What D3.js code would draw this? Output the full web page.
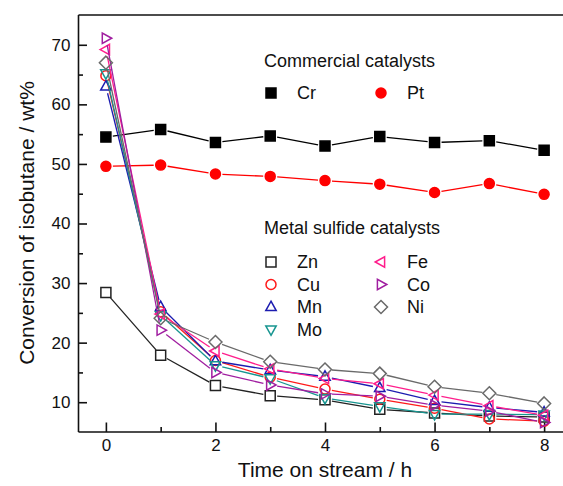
<!DOCTYPE html>
<html><head><meta charset="utf-8">
<script src="https://cdn.jsdelivr.net/npm/d3@7"></script>
<style>html,body{margin:0;padding:0;background:#fff}svg{display:block}</style>
</head><body><svg id="c" width="563" height="486"></svg>
<script>
const hours = [0,1,2,3,4,5,6,7,8];
const xTickLabels = [0,2,4,6,8];
const yTickLabels = [10,20,30,40,50,60,70];
const Cr = [54.5,55.8,53.6,54.7,53.0,54.6,53.6,53.9,52.3];
const Pt = [49.6,49.8,48.3,47.9,47.2,46.6,45.2,46.7,44.9];
const Zn = [28.4,17.9,12.8,11.1,10.4,8.8,8.2,7.7,7.5];
const Cu = [64.8,25.2,17.0,14.2,12.2,10.5,9.0,7.2,6.8];
const Mn = [63.0,26.0,16.9,15.4,14.3,12.4,10.2,9.1,8.3];
const Mo = [65.2,24.6,16.2,14.0,10.7,9.3,8.0,8.0,7.9];
const Fe = [69.2,24.8,18.6,15.6,14.0,13.1,11.2,9.4,7.8];
const Co = [71.1,22.1,15.0,12.9,11.4,11.0,9.5,8.5,6.6];
const Ni = [67.0,24.1,20.1,16.8,15.5,14.8,12.6,11.5,9.8];

const series = [
  {name:"Cr", values:Cr, color:"#000", shape:"square", fill:true},
  {name:"Pt", values:Pt, color:"#ff0000", shape:"circle", fill:true},
  {name:"Zn", values:Zn, color:"#222", shape:"square", fill:false},
  {name:"Cu", values:Cu, color:"#ff1a1a", shape:"circle", fill:false},
  {name:"Mn", values:Mn, color:"#1c1cb0", shape:"up", fill:false},
  {name:"Mo", values:Mo, color:"#179590", shape:"down", fill:false},
  {name:"Fe", values:Fe, color:"#ff1e8c", shape:"left", fill:false},
  {name:"Co", values:Co, color:"#a01ea0", shape:"right", fill:false},
  {name:"Ni", values:Ni, color:"#6a6a6a", shape:"diamond", fill:false}
];

const svg = d3.select("#c");
const x = d3.scaleLinear().domain([-0.5,8.5]).range([78.5,571.5]);
const y = d3.scaleLinear().domain([5,75]).range([432,15]);
const FONT = "Liberation Sans, Arial, Helvetica, sans-serif";

function shapePath(s){
  const r=5;
  switch(s){
    case "square": return `M${-r},${-r}H${r}V${r}H${-r}Z`;
    case "circle": return `M${r},0A${r},${r} 0 1,1 ${-r},0A${r},${r} 0 1,1 ${r},0Z`;
    case "up": return `M0,${-5.8}L${5.2},${3.6}L${-5.2},${3.6}Z`;
    case "down": return `M0,${5.8}L${5.2},${-3.6}L${-5.2},${-3.6}Z`;
    case "left": return `M${-5.8},0L${3.6},${-5.2}L${3.6},${5.2}Z`;
    case "right": return `M${5.8},0L${-3.6},${-5.2}L${-3.6},${5.2}Z`;
    case "diamond": return `M0,${-6.5}L${6.5},0L0,${6.5}L${-6.5},0Z`;
  }
}

// Frame
const axG = svg.append("g");
axG.append("line").attr("x1",x.range()[0]).attr("x2",x.range()[1]).attr("y1",y(5)).attr("y2",y(5));
axG.append("line").attr("x1",x.range()[0]).attr("x2",x.range()[1]).attr("y1",y(75)).attr("y2",y(75));
axG.append("line").attr("x1",x(-0.5)).attr("x2",x(-0.5)).attr("y1",y(5)).attr("y2",y(75));
axG.append("line").attr("x1",x(8.5)).attr("x2",x(8.5)).attr("y1",y(5)).attr("y2",y(75));
axG.selectAll("line").attr("stroke","#111").attr("stroke-width",1.6);

const yAxis = d3.axisLeft(y).tickValues(yTickLabels).tickSize(-8.5).tickPadding(8).tickFormat(d3.format("d"));
const gy = svg.append("g").attr("transform",`translate(${x(-0.5)},0)`).call(yAxis);
const yMinor = d3.axisLeft(y).tickValues([15,25,35,45,55,65]).tickSize(-4.5).tickFormat("");
const gym = svg.append("g").attr("transform",`translate(${x(-0.5)},0)`).call(yMinor);
const xAxis = d3.axisBottom(x).tickValues(xTickLabels).tickSize(-9.5).tickPadding(7).tickFormat(d3.format("d"));
const gx = svg.append("g").attr("transform",`translate(0,${y(5)})`).call(xAxis);
const xMinor = d3.axisBottom(x).tickValues([1,3,5,7]).tickSize(-5).tickFormat("");
const gxm = svg.append("g").attr("transform",`translate(0,${y(5)})`).call(xMinor);
[gy,gym,gx,gxm].forEach(g=>{
  g.select(".domain").remove();
  g.selectAll(".tick line").attr("stroke","#111").attr("stroke-width",1.6);
  g.selectAll(".tick text").attr("font-family",FONT).attr("font-size",17).attr("fill","#111");
});

// Axis titles
svg.append("text").attr("x",325).attr("y",477).attr("text-anchor","middle")
  .attr("font-family",FONT).attr("font-size",21).attr("fill","#111").text("Time on stream / h");
svg.append("text").attr("transform","translate(34,223) rotate(-90)").attr("text-anchor","middle")
  .attr("font-family",FONT).attr("font-size",21).attr("fill","#111").text("Conversion of isobutane / wt%");

// Series: line segments with gaps around markers
const gap = 7;
series.forEach(s=>{
  const g = svg.append("g");
  const pts = hours.map((h,i)=>[x(h), y(s.values[i])]);
  for(let i=0;i<pts.length-1;i++){
    const [x1,y1]=pts[i],[x2,y2]=pts[i+1];
    const dx=x2-x1, dy=y2-y1, L=Math.hypot(dx,dy);
    if(L<=2*gap) continue;
    const ux=dx/L, uy=dy/L;
    g.append("line").attr("x1",x1+ux*gap).attr("y1",y1+uy*gap)
      .attr("x2",x2-ux*gap).attr("y2",y2-uy*gap)
      .attr("stroke",s.color).attr("stroke-width",1.3);
  }
  g.selectAll("path").data(pts).join("path")
    .attr("transform",d=>`translate(${d[0]},${d[1]})`)
    .attr("d",shapePath(s.shape))
    .attr("fill",s.fill?s.color:"none")
    .attr("stroke",s.color).attr("stroke-width",1.5);
});

// Legends
function legendItem(name,cx,cy){
  const s = series.find(d=>d.name===name);
  svg.append("path").attr("transform",`translate(${cx},${cy})`).attr("d",shapePath(s.shape))
    .attr("fill",s.fill?s.color:"none").attr("stroke",s.color).attr("stroke-width",1.5);
  svg.append("text").attr("x",cx+26).attr("y",cy+6).attr("font-family",FONT).attr("font-size",18)
    .attr("fill","#111").text(name);
}
svg.append("text").attr("x",264).attr("y",67).attr("font-family",FONT).attr("font-size",18).attr("fill","#111").text("Commercial catalysts");
legendItem("Cr",271,93);
legendItem("Pt",381,93);
svg.append("text").attr("x",264).attr("y",234).attr("font-family",FONT).attr("font-size",18).attr("fill","#111").text("Metal sulfide catalysts");
legendItem("Zn",271,262);
legendItem("Cu",271,284.5);
legendItem("Mn",271,307);
legendItem("Mo",271,329.5);
legendItem("Fe",381,262);
legendItem("Co",381,284.5);
legendItem("Ni",381,307);
</script></body></html>
